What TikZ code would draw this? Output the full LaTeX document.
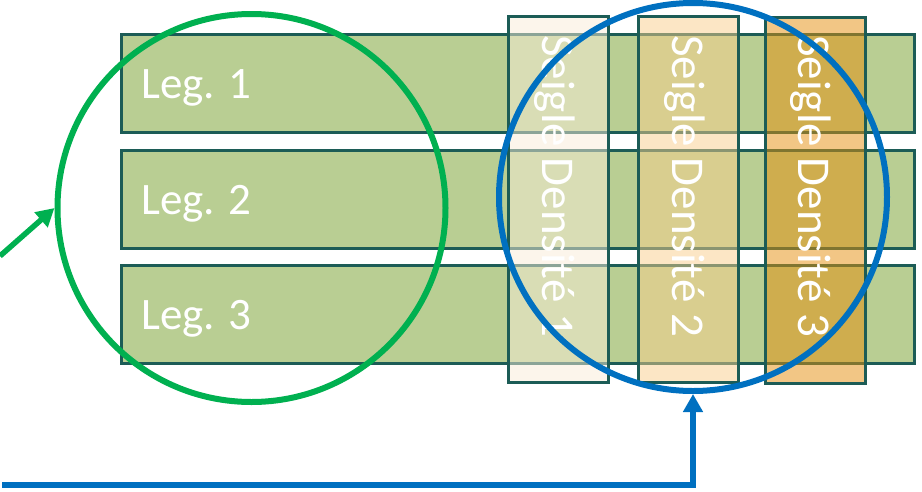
\documentclass[tikz,border=0pt]{standalone}
\usepackage{fontspec}
\setmainfont{Carlito}
\usetikzlibrary{arrows.meta}
\definecolor{barfill}{RGB}{185,206,147}
\definecolor{barline}{RGB}{28,92,86}
\definecolor{vone}{RGB}{250,236,216}
\definecolor{vtwo}{RGB}{249,206,140}
\definecolor{vthree}{RGB}{229,142,11}
\definecolor{offgreen}{RGB}{0,176,80}
\definecolor{offblue}{RGB}{0,112,192}
\tikzset{
  hbar/.style={draw=barline, fill=barfill, line width=2.5pt, minimum width=793pt, minimum height=98pt, inner sep=0pt, anchor=north west},
  vbar/.style={draw=barline, line width=2.5pt, fill opacity=0.5, minimum width=100pt, minimum height=366pt, inner sep=0pt, anchor=north west},
  legtext/.style={text=white, font=\fontsize{45pt}{50pt}\selectfont, inner sep=0pt, anchor=base west},
  vtext/.style={text=white, font=\fontsize{47pt}{50pt}\selectfont, inner sep=0pt, rotate=-90, anchor=west},
  ring/.style={circle, draw=#1, line width=6pt, minimum size=388pt, inner sep=0pt},
  pointer/.style={draw=#1, line width=5.5pt, -{Triangle[length=18pt,width=19pt]}},
}
\begin{document}
\begin{tikzpicture}[x=1pt,y=-1pt]
\useasboundingbox (0,0) rectangle (922,491);
% horizontal bars
\node[hbar] (h1) at (120,33) {};
\node[hbar] (h2) at (120,149) {};
\node[hbar] (h3) at (120,264) {};
\node[legtext] (l1) at (141,98) {Leg. 1};
\node[legtext] (l2) at (141,214) {Leg. 2};
\node[legtext] (l3) at (141,329) {Leg. 3};
% vertical bars
\node[vbar, fill=vone] (v1) at (507,15) {};
\node[vbar, fill=vtwo] (v2) at (637,15) {};
\node[vbar, fill=vthree] (v3) at (764,16) {};
\node[vtext] (s1) at (555,35) {Seigle Densité 1};
\node[vtext] (s2) at (685,35) {Seigle Densité 2};
\node[vtext] (s3) at (811,35) {Seigle Densité 3};
% circles
\node[ring=offgreen] (gc) at (251.5,208) {};
\node[ring=offblue] (bc) at (693,197) {};
% arrows
\coordinate (gs) at (0,256);
\coordinate (bs) at (2,485);
\draw[pointer=offgreen] (gs) -- (gc.west);
\draw[pointer=offblue] (bs) -| (bc.south);
\end{tikzpicture}
\end{document}
